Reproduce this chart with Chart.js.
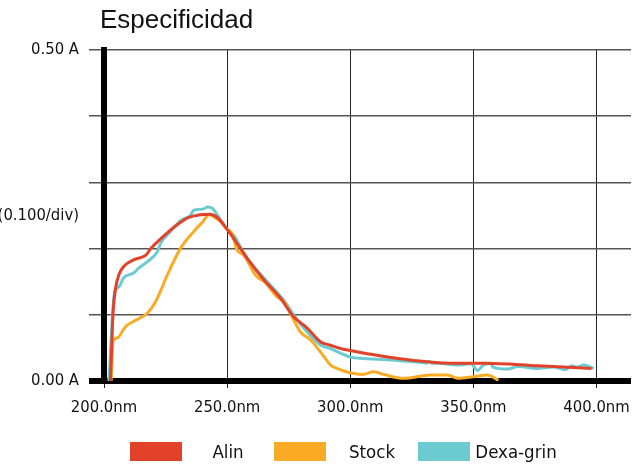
<!DOCTYPE html>
<html>
<head>
<meta charset="utf-8">
<script src="https://cdn.jsdelivr.net/npm/chart.js@4/dist/chart.umd.min.js"></script>
<style>
  body { margin: 0; background: #fff; }
  #wrap { position: relative; width: 633px; height: 466px; }
  #title { position: absolute; left: 100px; top: 4px; font: 26px 'Liberation Sans', Arial, sans-serif; color: #111; }
  #legend { position: absolute; left: 130px; top: 441px; display: flex; font: 18.5px 'Liberation Sans Narrow', 'DejaVu Sans Condensed', sans-serif; color: #111; }
  .item { display: flex; align-items: center; width: 144px; }
  .box { width: 52px; height: 19px; flex: none; }
  .lbl { width: 92px; text-align: center; white-space: nowrap; }
</style>
</head>
<body>
<div id="wrap">
  <canvas id="chart" width="633" height="466"></canvas>
  <div id="title">Especificidad</div>
  <div id="legend"></div>
</div>
<script>
// DATA
const seriesNames = ['Alin', 'Stock', 'Dexa-grin'];
const seriesColors = ['#E2412A', '#F9AB25', '#6CCBD1'];

const alinNm  = [202.6, 203.2, 203.7, 204.7, 206, 208, 212, 217, 219, 224, 229.7, 234.4, 239, 243, 246, 250, 254, 258.2, 264.9, 271.7, 277, 282.5, 288, 292, 296, 300, 312, 325.7, 340, 355, 376, 398];
const alinAbs = [0.0, 0.06, 0.105, 0.14, 0.16, 0.173, 0.183, 0.19, 0.2, 0.218, 0.236, 0.247, 0.251, 0.252, 0.247, 0.229, 0.208, 0.185, 0.153, 0.125, 0.097, 0.08, 0.059, 0.054, 0.049, 0.046, 0.038, 0.031, 0.027, 0.027, 0.023, 0.019];

const stockNm  = [202.9, 203.7, 205.4, 208.7, 212, 217.5, 221, 225.7, 231, 236.5, 240, 242.6, 244.6, 247.3, 250, 252, 254, 256.8, 261.5, 265.6, 270.3, 273, 275.7, 279.8, 283.9, 289.3, 292, 296, 300, 305, 309.5, 313.5, 321.6, 332.6, 339.5, 343.6, 350, 355.7, 360.2];
const stockAbs = [0.0, 0.06, 0.065, 0.082, 0.09, 0.102, 0.12, 0.16, 0.2, 0.226, 0.24, 0.251, 0.248, 0.241, 0.229, 0.223, 0.198, 0.19, 0.16, 0.148, 0.127, 0.12, 0.102, 0.074, 0.062, 0.037, 0.024, 0.017, 0.0125, 0.01, 0.014, 0.01, 0.004, 0.009, 0.009, 0.004, 0.0065, 0.009, 0.001];

const dexaNm  = [202, 203, 204.3, 206, 208, 212, 214, 217.5, 221.6, 223, 227, 231, 235, 236.5, 240.5, 242, 244, 246, 250, 252.7, 256.8, 260.8, 266.3, 273, 277, 282.5, 288, 292, 296, 300, 305, 312, 319, 326, 331, 332, 333, 335.4, 343.6, 349, 351.7, 354, 357, 358, 364, 368, 376, 382.5, 387.4, 390, 392, 394.8, 398.9];
const dexaAbs = [0.0, 0.07, 0.135, 0.142, 0.156, 0.163, 0.17, 0.18, 0.195, 0.208, 0.226, 0.242, 0.25, 0.258, 0.26, 0.263, 0.261, 0.251, 0.229, 0.22, 0.193, 0.173, 0.15, 0.122, 0.1, 0.074, 0.054, 0.049, 0.042, 0.036, 0.034, 0.033, 0.031, 0.029, 0.027, 0.03, 0.027, 0.027, 0.024, 0.026, 0.016, 0.024, 0.027, 0.021, 0.018, 0.022, 0.019, 0.021, 0.017, 0.023, 0.021, 0.024, 0.019];

const xTicks = [200, 250, 300, 350, 400];
const yGrid = [0, 0.1, 0.2, 0.25, 0.3, 0.4, 0.5];
const yLabels = { 0: '0.00 A', 0.25: '(0.100/div)', 0.5: '0.50 A' };

const pts = (xs, ys) => xs.map((x, i) => ({ x: x, y: ys[i] }));
const allData = [pts(alinNm, alinAbs), pts(stockNm, stockAbs), pts(dexaNm, dexaAbs)];

const narrow = "'Liberation Sans Narrow', 'DejaVu Sans Condensed', sans-serif";

new Chart(document.getElementById('chart'), {
  type: 'line',
  data: {
    datasets: seriesNames.map((name, i) => ({
      label: name,
      data: allData[i],
      borderColor: seriesColors[i],
      backgroundColor: seriesColors[i],
      borderWidth: 3,
      pointRadius: 0,
      cubicInterpolationMode: 'monotone',
      fill: false
    }))
  },
  options: {
    responsive: false,
    animation: false,
    layout: { padding: { top: 50, right: 2, bottom: 40, left: 0 } },
    plugins: { legend: { display: false }, title: { display: false }, tooltip: { enabled: false } },
    scales: {
      x: {
        type: 'linear', min: 200, max: 414,
        afterBuildTicks: s => { s.ticks = xTicks.map(v => ({ value: v })); },
        afterFit: s => { s.height = 45; s.paddingLeft = 0; s.paddingRight = 0; },
        grid: { color: '#222', lineWidth: 1, tickLength: 7 },
        border: { display: false },
        ticks: { color: '#111', padding: 10, font: { family: narrow, size: 16.5 }, callback: v => v.toFixed(1) + 'nm' }
      },
      y: {
        min: 0, max: 0.5,
        afterBuildTicks: s => { s.ticks = yGrid.map(v => ({ value: v })); },
        afterFit: s => { s.width = 104; s.paddingTop = 0; s.paddingBottom = 0; },
        grid: {
          tickLength: 15,
          color: c => c.tick.value === 0.25 ? 'rgba(0,0,0,0)' : (c.tick.value === 0 ? '#000' : '#555'),
          lineWidth: c => c.tick.value === 0 ? 6 : 1.5
        },
        border: { display: true, color: '#000', width: 6 },
        ticks: { color: '#111', padding: 10, font: { family: narrow, size: 16.5 }, callback: v => yLabels[v] || '' }
      }
    }
  }
});

// HTML legend
const legend = document.getElementById('legend');
seriesNames.forEach((name, i) => {
  const item = document.createElement('div');
  item.className = 'item';
  item.innerHTML = '<div class="box" style="background:' + seriesColors[i] + '"></div><div class="lbl">' + name + '</div>';
  legend.appendChild(item);
});
</script>
</body>
</html>
